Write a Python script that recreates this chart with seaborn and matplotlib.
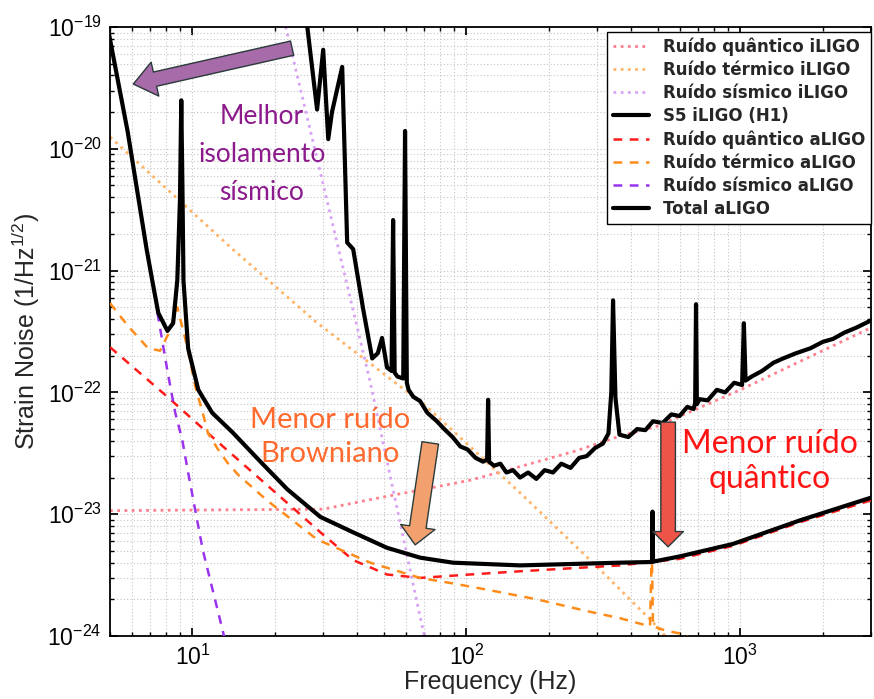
import numpy as np
import pandas as pd
import matplotlib
matplotlib.use("Agg")
import matplotlib.pyplot as plt
import seaborn as sns
from matplotlib.patches import FancyArrowPatch

# --- iLIGO noise budget (dotted) ---
ILIGO_QUANT_F = [5.0, 30.0, 44.6, 67.7, 103, 141, 250, 355, 500, 1000, 3000]
ILIGO_QUANT_S = [1.07e-23, 1.1e-23, 1.32e-23, 1.58e-23, 1.9e-23, 2.3e-23, 3.3e-23, 4.3e-23,
                 5.3e-23, 1.05e-22, 3.4e-22]

ILIGO_THERM_F = [5.0, 14.1, 28.6, 71.8, 157, 316, 479, 700]
ILIGO_THERM_S = [1.25e-20, 1.48e-21, 3.7e-22, 7.6e-23, 1.5e-23, 3.3e-24, 1.3e-24, 5e-25]

ILIGO_SEIS_F = [21.0, 22.0, 33.7, 44.6, 67.7, 72.0]
ILIGO_SEIS_S = [1.5e-19, 9.5e-20, 1.7e-21, 1.2e-22, 1.45e-24, 7.8e-25]

# --- S5 iLIGO (H1) measured sensitivity ---
S5_F = [26.0, 28.5, 30.0, 31.3, 32.3, 35.2, 36.7, 38.6, 42.0, 45.3, 47.5, 49.2, 51.3,
        53.3, 54.0, 54.7, 56.0, 58.8, 59.7, 60.6, 61.5, 64.0, 67.7, 72.0, 78.0, 83.0,
        89.0, 95.0, 101, 108, 115, 119, 120, 121, 126, 133, 140, 148, 157, 168, 180,
        193, 207, 222, 240, 258, 275, 295, 315, 330, 338, 343, 350, 362, 390, 420,
        450, 480, 520, 560, 600, 640, 675, 684, 689, 694, 710, 760, 821, 880, 950,
        1015, 1030, 1045, 1100, 1200, 1320, 1432, 1600, 1800, 2000, 2180, 2400, 2650, 3000]
S5_S = [1.2e-19, 2.1e-20, 6.5e-20, 1.2e-20, 2.0e-20, 4.7e-20, 1.7e-21, 1.5e-21, 4.8e-22,
        1.9e-22, 2.1e-22, 2.8e-22, 1.6e-22, 1.5e-22, 2.6e-21, 1.45e-22, 1.35e-22, 1.3e-22,
        1.4e-20, 1.2e-22, 1.05e-22, 9.2e-23, 8.5e-23, 6.8e-23, 5.8e-23, 5.0e-23, 4.3e-23,
        3.6e-23, 3.4e-23, 2.9e-23, 2.7e-23, 2.8e-23, 8.7e-23, 2.7e-23, 2.5e-23, 2.6e-23,
        2.2e-23, 2.3e-23, 2.0e-23, 2.2e-23, 1.95e-23, 2.3e-23, 2.2e-23, 2.6e-23, 2.4e-23,
        2.9e-23, 3.0e-23, 3.5e-23, 3.8e-23, 4.6e-23, 1.0e-22, 5.7e-22, 9.0e-23, 4.5e-23,
        4.3e-23, 5.0e-23, 4.9e-23, 5.8e-23, 5.6e-23, 6.6e-23, 6.4e-23, 7.6e-23, 7.3e-23,
        8.2e-23, 5.3e-22, 8.0e-23, 8.8e-23, 8.6e-23, 1.05e-22, 1.0e-22, 1.2e-22, 1.15e-22,
        3.7e-22, 1.25e-22, 1.35e-22, 1.5e-22, 1.75e-22, 1.9e-22, 2.1e-22, 2.3e-22, 2.6e-22,
        2.75e-22, 3.1e-22, 3.4e-22, 3.9e-22]

# --- aLIGO design noise budget (dashed) ---
ALIGO_QUANT_F = [5.0, 8.1, 12.1, 17.4, 24.7, 29.3, 38.6, 51.3, 67.7, 103, 157, 363, 600, 940, 1650, 3000]
ALIGO_QUANT_S = [2.35e-22, 9.2e-23, 4.1e-23, 2.0e-23, 1.0e-23, 7.1e-24, 4.2e-24, 3.2e-24, 3.0e-24,
                 3.2e-24, 3.4e-24, 3.8e-24, 4.3e-24, 5.5e-24, 8.6e-24, 1.3e-23]

ALIGO_THERM_F = [5.0, 5.82, 6.89, 7.62, 8.15, 8.8, 9.6, 10.25, 10.9, 11.4, 12.4, 13.5, 14.7,
                 18.7, 28.5, 44.6, 67.7, 89.6, 119, 181, 276, 364, 468, 474, 476, 480, 540, 602, 700]
ALIGO_THERM_S = [5.4e-22, 3.5e-22, 2.3e-22, 2.2e-22, 3.0e-22, 5.0e-22, 2.3e-22, 1.1e-22, 6.8e-23,
                 4.6e-23, 3.4e-23, 2.6e-23, 2.1e-23, 1.3e-23, 6.2e-24, 4.0e-24, 3.0e-24, 2.7e-24,
                 2.4e-24, 2.0e-24, 1.6e-24, 1.4e-24, 1.2e-24, 4.0e-24, 4.0e-24, 1.2e-24, 1.1e-24,
                 1.05e-24, 9e-25]

ALIGO_SEIS_F = [7.45, 8.1, 8.65, 9.17, 9.64, 10.9, 12.9, 13.5]
ALIGO_SEIS_S = [4.5e-22, 1.5e-22, 6.8e-23, 4.1e-23, 2.2e-23, 5.1e-24, 1.1e-24, 7e-25]

TOTAL_F = [4.9, 5.8, 6.8, 7.13, 7.5, 8.1, 8.5, 8.8, 9.0, 9.1, 9.2, 9.27, 9.64, 10.5, 11.8,
           14.0, 17.7, 22.2, 29.3, 38.6, 51.3, 67.7, 89.3, 157, 363, 470, 476, 478, 480,
           486, 600, 940, 1650, 3100]
TOTAL_S = [1.0e-19, 1.38e-20, 1.5e-21, 8.3e-22, 4.5e-22, 3.2e-22, 3.7e-22, 8.3e-22, 3.8e-21,
           2.5e-20, 3.8e-21, 8.3e-22, 2.3e-22, 1.05e-22, 6.8e-23, 4.7e-23, 2.7e-23, 1.6e-23,
           9.5e-24, 7.1e-24, 5.3e-24, 4.4e-24, 4.0e-24, 3.8e-24, 4.0e-24, 4.05e-24, 4.05e-24,
           1.05e-23, 4.1e-24, 4.1e-24, 4.5e-24, 5.7e-24, 8.9e-24, 1.4e-23]

SERIES = [
    ("Ruído quântico iLIGO", ILIGO_QUANT_F, ILIGO_QUANT_S, "#ff7f8c", (0, (1, 1.6)), 2.0, 2),
    ("Ruído térmico iLIGO", ILIGO_THERM_F, ILIGO_THERM_S, "#ffb366", (0, (1, 1.6)), 2.0, 2),
    ("Ruído sísmico iLIGO", ILIGO_SEIS_F, ILIGO_SEIS_S, "#d9a3f5", (0, (1, 1.6)), 2.0, 2),
    ("S5 iLIGO (H1)", S5_F, S5_S, "black", "-", 3.0, 5),
    ("Ruído quântico aLIGO", ALIGO_QUANT_F, ALIGO_QUANT_S, "#ff1a1a", (0, (3.5, 3)), 1.8, 3),
    ("Ruído térmico aLIGO", ALIGO_THERM_F, ALIGO_THERM_S, "#ff8c1a", (0, (3.5, 3)), 1.8, 3),
    ("Ruído sísmico aLIGO", ALIGO_SEIS_F, ALIGO_SEIS_S, "#9933ee", (0, (3.5, 3)), 1.8, 3),
    ("Total aLIGO", TOTAL_F, TOTAL_S, "black", "-", 3.0, 6),
]

sns.set_theme(style="ticks")
plt.rcParams["font.family"] = ["Liberation Sans", "DejaVu Sans"]
plt.rcParams["mathtext.fontset"] = "custom"
plt.rcParams["mathtext.rm"] = "Liberation Sans"
plt.rcParams["mathtext.it"] = "Liberation Sans:italic"
plt.rcParams["mathtext.bf"] = "Liberation Sans:bold"

fig = plt.figure(figsize=(8.74, 6.99), dpi=100)
ax = fig.add_axes([0.1259, 0.0901, 0.8707, 0.8713])
ax.set_xscale("log")
ax.set_yscale("log")

for label, f, s, color, ls, lw, z in SERIES:
    df = pd.DataFrame({"f": f, "s": s})
    sns.lineplot(data=df, x="f", y="s", ax=ax, color=color, linestyle=ls, linewidth=lw,
                 label=label, zorder=z, sort=False, estimator=None)

ax.set_xlim(5, 3000)
ax.set_ylim(1e-24, 1e-19)
ax.set_xticks([1e1, 1e2, 1e3])
ax.set_yticks([1e-24, 1e-23, 1e-22, 1e-21, 1e-20, 1e-19])
ax.grid(True, which="both", color="#c4c4c4", linestyle=(0, (1, 2)), linewidth=0.8)
ax.tick_params(which="both", direction="in", top=True, right=True, colors="black")
ax.tick_params(which="major", length=6, labelsize=16.5, pad=6)
ax.tick_params(which="minor", length=3)
for sp in ax.spines.values():
    sp.set_color("black")
    sp.set_linewidth(1.3)

ax.set_xlabel("Frequency (Hz)", fontsize=18, labelpad=0)
ax.set_ylabel("Strain Noise (1/Hz$^{1/2}$)", fontsize=18)
ax.yaxis.set_label_coords(-0.089, 0.5)

leg = ax.legend(loc="upper right", bbox_to_anchor=(1.0, 0.992), borderaxespad=0,
                prop={"family": "DejaVu Sans", "weight": "bold", "size": 12},
                frameon=True, fancybox=False, framealpha=1, edgecolor="black",
                handlelength=2.2, labelspacing=0.3, borderpad=0.35, handletextpad=0.8)
leg.get_frame().set_linewidth(1.0)

# annotations
ann_font = "Lato"
ax.text(17.9, 8.9e-21, "Melhor\nisolamento\nsísmico", color="#8c1a8c", fontsize=19,
        family=ann_font, ha="center", va="center", linespacing=1.65, zorder=7)
ax.text(31.8, 4.3e-23, "Menor ruído\nBrowniano", color="#ff6a2e", fontsize=21,
        family=ann_font, ha="center", va="center", linespacing=1.35, zorder=7)
ax.text(1283, 2.7e-23, "Menor ruído\nquântico", color="#ff1414", fontsize=23,
        family=ann_font, ha="center", va="center", linespacing=1.2, zorder=7)

# (tail, tip, colour, tail width, head width, head length) in points of mutation_scale=10
arrows = [
    ((23.1, 6.7e-20), (6.08, 3.4e-20), "#a66ba8", 1.05, 2.5, 1.6),
    ((73.8, 3.85e-23), (65.0, 5.6e-24), "#f2a06e", 1.2, 2.5, 1.3),
    ((545, 5.7e-23), (545, 5.4e-24), "#ee5548", 1.05, 2.2, 1.1),
]
for tail, tip, color, tw, hw, hl in arrows:
    style = f"simple,head_length={hl},head_width={hw},tail_width={tw}"
    arr = FancyArrowPatch(tail, tip, arrowstyle=style, mutation_scale=10,
                          facecolor=color, edgecolor="#2a3a3a", linewidth=1.0,
                          zorder=8, shrinkA=0, shrinkB=0)
    ax.add_patch(arr)

fig.savefig("out.png", dpi=100)
